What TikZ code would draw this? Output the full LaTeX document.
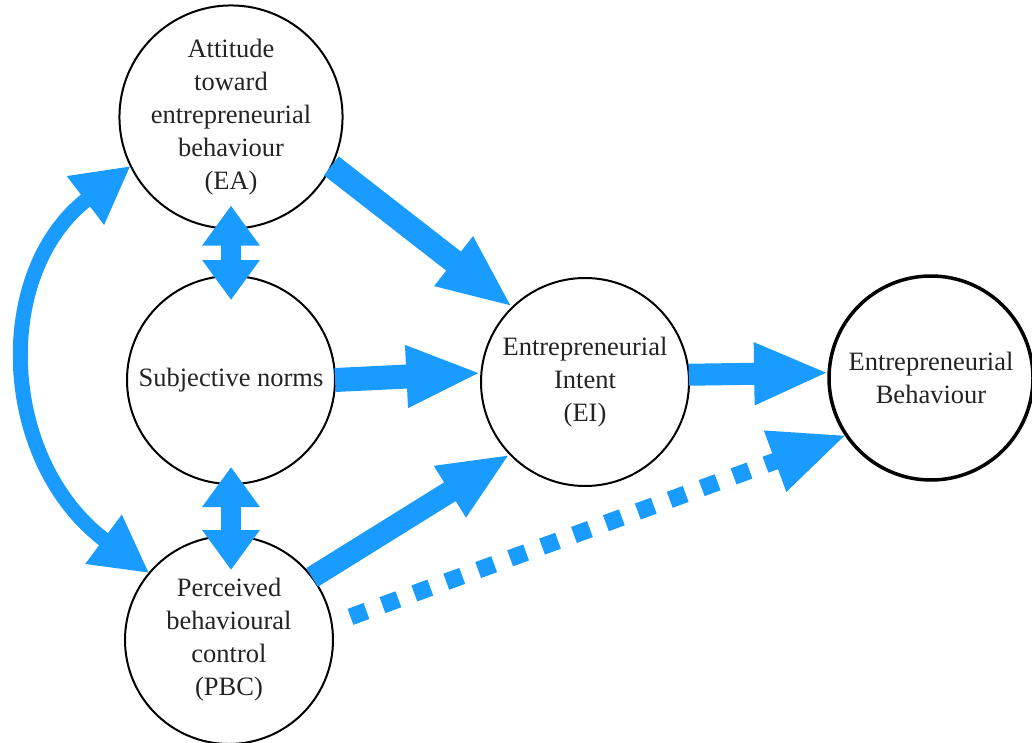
\documentclass[tikz,border=0pt]{standalone}
\usepackage{fontspec}
\setmainfont{Liberation Serif}
\usetikzlibrary{arrows.meta}
\definecolor{arrblue}{RGB}{25,155,255}
\definecolor{txt}{RGB}{35,35,35}
\tikzset{
  circ/.style={circle,draw=black,line width=2pt,minimum size=208pt,inner sep=0pt,outer sep=0pt,
    align=center,text=txt,font=\fontsize{26.5}{33}\selectfont},
  bigarr/.style={draw=arrblue,line width=24pt,-{Triangle[length=75pt,width=57pt]},arrblue},
  dblarr/.style={draw=arrblue,line width=20pt,{Triangle[length=40pt,width=55pt]}-{Triangle[length=40pt,width=55pt]},arrblue},
  curvarr/.style={draw=arrblue,line width=15pt,{Triangle[length=57pt,width=57pt]}-{Triangle[length=57pt,width=57pt]},arrblue},
  dotarr/.style={draw=arrblue,line width=17pt,dash pattern=on 17pt off 17pt,-{Triangle[length=76pt,width=60pt]},arrblue}
}
\begin{document}
\begin{tikzpicture}[x=1pt,y=-1pt]
\useasboundingbox (0,0) rectangle (1032,743);
\node[circ] (EA) at (231,117) {Attitude\\toward\\entrepreneurial\\behaviour\\(EA)};
\node[circ] (SN) at (231,380) {Subjective norms};
\node[circ] (PBC) at (229,640) {Perceived\\behavioural\\control\\(PBC)};
\node[circ] (EI) at (585,382) {Entrepreneurial\\Intent\\(EI)};
\node[circ,line width=3.5pt,minimum size=204pt] (EB) at (931,378) {Entrepreneurial\\Behaviour};
\draw[bigarr] (EA.-26) -- (EI.134);
\draw[bigarr] (SN.0) -- (EI.175);
\draw[bigarr,line width=22pt] (EI.4) -- (EB.177);
\draw[bigarr,line width=22pt,-{Triangle[length=71pt,width=55pt]}] (PBC.37) -- (EI.224);
\draw[dotarr,shorten <=20pt] (PBC.9) -- (EB.214);
\draw[dblarr] ([yshift=23pt]EA.south) -- ([yshift=-24pt]SN.north);
\draw[dblarr] ([yshift=17pt]SN.south) -- ([yshift=-34pt]SN.south |- PBC.north);
\draw[curvarr] (PBC.140) .. controls +(-150,-111) and +(-140,107) .. (EA.206);
\end{tikzpicture}
\end{document}
